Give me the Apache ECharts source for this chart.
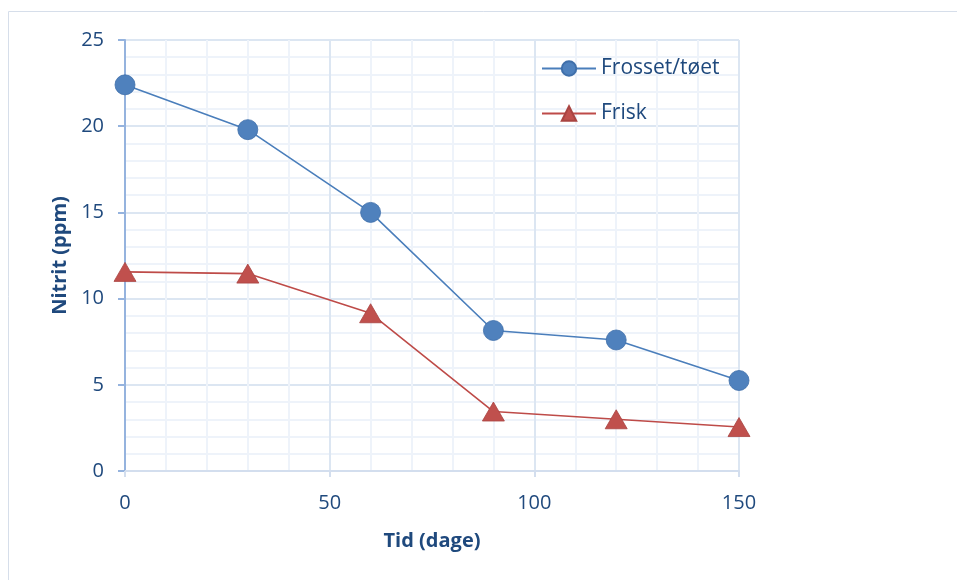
<!DOCTYPE html>
<html><head><meta charset="utf-8">
<script src="https://cdn.jsdelivr.net/npm/echarts@6/dist/echarts.min.js"></script>
<style>html,body{margin:0;padding:0;background:#fff}#c{width:957px;height:580px}</style>
</head><body><div id="c"></div>
<script>
const days = [0, 30, 60, 90, 120, 150];
const frossetValues = [22.4, 19.8, 15.0, 8.15, 7.6, 5.25];
const friskValues = [11.55, 11.45, 9.15, 3.45, 3.0, 2.55];
const seriesNames = ['Frosset/tøet', 'Frisk'];
const xTicks = [0, 50, 100, 150];
const yTicks = [0, 5, 10, 15, 20, 25];

const txt = '#1F497D';
const font = '"Open Sans", "Noto Sans", sans-serif';
const chart = echarts.init(document.getElementById('c'), null, {renderer: 'canvas'});
chart.setOption({
  animation: false,
  backgroundColor: '#fff',
  graphic: [{type: 'rect', shape: {x: 8.5, y: 11.5, width: 1200, height: 1000}, style: {fill: 'none', stroke: '#D6DEEA', lineWidth: 1}, silent: true}],
  grid: {left: 125, right: 218, top: 40, bottom: 109, containLabel: false},
  legend: {
    orient: 'vertical', left: 536, top: 53, itemGap: 24, itemWidth: 54, itemHeight: 18,
    data: seriesNames,
    textStyle: {color: txt, fontSize: 21, fontFamily: font}
  },
  xAxis: {
    type: 'value', min: 0, max: 150, interval: 50,
    name: 'Tid (dage)', nameLocation: 'middle', nameGap: 60,
    nameTextStyle: {color: txt, fontSize: 20, fontWeight: 'bold', fontFamily: font},
    axisLine: {show: true, lineStyle: {color: '#D3DEEE', width: 2}},
    axisTick: {show: true, length: 6, lineStyle: {color: '#D3DEEE', width: 2}},
    axisLabel: {color: txt, fontSize: 20, margin: 22, fontFamily: font,
      formatter: v => xTicks.includes(v) ? String(v) : ''},
    splitLine: {show: true, lineStyle: {color: '#DCE6F2', width: 2}},
    minorTick: {show: false, splitNumber: 5},
    minorSplitLine: {show: true, lineStyle: {color: '#EEF3FA', width: 2}}
  },
  yAxis: {
    type: 'value', min: 0, max: 25, interval: 5,
    name: 'Nitrit (ppm)', nameLocation: 'middle', nameGap: 52, nameRotate: 90,
    nameTextStyle: {color: txt, fontSize: 20, fontWeight: 'bold', fontFamily: font},
    axisLine: {show: true, lineStyle: {color: '#95B3DE', width: 2}},
    axisTick: {show: true, length: 7, lineStyle: {color: '#95B3DE', width: 2}},
    axisLabel: {color: txt, fontSize: 20, margin: 21, fontFamily: font,
      formatter: v => yTicks.includes(v) ? String(v) : ''},
    splitLine: {show: true, lineStyle: {color: '#DCE6F2', width: 2}},
    minorTick: {show: false, splitNumber: 5},
    minorSplitLine: {show: true, lineStyle: {color: '#EEF3FA', width: 2}}
  },
  series: [
    {name: seriesNames[0], type: 'line', data: days.map((d, i) => [d, frossetValues[i]]),
     symbol: 'circle', symbolSize: 20, lineStyle: {color: '#4A7EBB', width: 1.6},
     itemStyle: {color: '#4F81BD', borderColor: '#3F6FAA', borderWidth: 0.8}, z: 3},
    {name: seriesNames[1], type: 'line', data: days.map((d, i) => [d, friskValues[i]]),
     symbol: 'triangle', symbolSize: [22, 19], lineStyle: {color: '#BE4B48', width: 1.6},
     itemStyle: {color: '#C0504D', borderColor: '#A94441', borderWidth: 0.8}, z: 2}
  ]
});
</script></body></html>
